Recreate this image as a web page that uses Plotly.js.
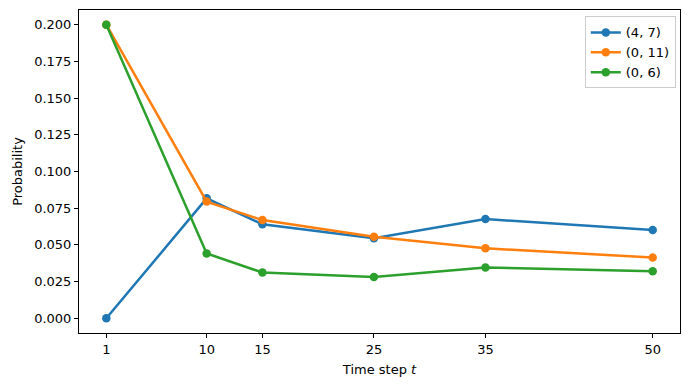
<!DOCTYPE html>
<html>
<head>
<meta charset="utf-8">
<script src="https://cdn.plot.ly/plotly-3.0.1.min.js"></script>
<style>body{margin:0;background:#fff}#graph{width:690px;height:390px}</style>
</head>
<body>
<div id="graph"></div>
<script>
// time steps and probabilities per state
const steps = [1, 10, 15, 25, 35, 50];
const p47 = [0.000, 0.0817, 0.0640, 0.0545, 0.0676, 0.0601];
const p011 = [0.200, 0.0795, 0.0669, 0.0555, 0.0477, 0.0414];
const p06 = [0.200, 0.0442, 0.0312, 0.0281, 0.0346, 0.0321];
const names = ['(4, 7)', '(0, 11)', '(0, 6)'];
const colors = ['#1f77b4', '#ff7f0e', '#2ca02c'];
const yTicks = [0, 0.025, 0.05, 0.075, 0.1, 0.125, 0.15, 0.175, 0.2];

const traces = [p47, p011, p06].map((ys, i) => ({
    x: steps,
    y: ys,
    name: names[i],
    mode: 'lines+markers',
    type: 'scatter',
    line: { color: colors[i], width: 2.5 },
    marker: { color: colors[i], size: 8.5 }
}));

const axisStyle = {
    automargin: false,
    showgrid: false,
    zeroline: false,
    showline: true,
    mirror: true,
    linecolor: '#000',
    linewidth: 1,
    ticks: 'outside',
    ticklen: 4,
    tickcolor: '#000',
    tickfont: { size: 13, color: '#000' }
};

const layout = {
    width: 690,
    height: 390,
    margin: { l: 79, r: 10, t: 10, b: 57 },
    font: { family: 'DejaVu Sans', color: '#000' },
    paper_bgcolor: '#fff',
    plot_bgcolor: '#fff',
    xaxis: Object.assign({}, axisStyle, {
        range: [-1.45, 52.45],
        tickvals: steps,
        ticktext: steps.map(String),
        title: { text: 'Time step <i>t</i>', font: { size: 13 }, standoff: 9 }
    }),
    yaxis: Object.assign({}, axisStyle, {
        range: [-0.01, 0.21],
        tickvals: yTicks,
        ticktext: yTicks.map(v => v.toFixed(3)),
        title: { text: 'Probability', font: { size: 13 }, standoff: 8 }
    }),
    showlegend: true,
    legend: {
        x: 0.993, y: 0.98, xanchor: 'right', yanchor: 'top',
        bgcolor: 'rgba(255,255,255,0.8)',
        bordercolor: '#ccc', borderwidth: 1,
        font: { size: 13 },
        tracegroupgap: 0
    }
};

Plotly.newPlot('graph', traces, layout, { displayModeBar: false });
</script>
</body>
</html>
